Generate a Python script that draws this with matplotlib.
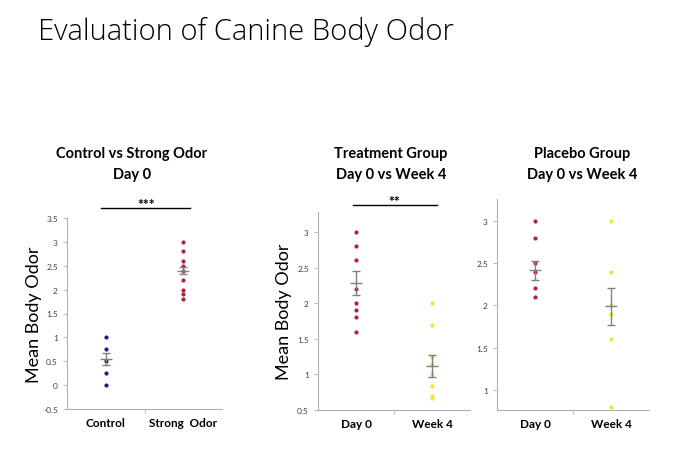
import numpy as np
import matplotlib.pyplot as plt
from matplotlib.ticker import FixedLocator

plt.rcParams['font.family'] = ['Lato', 'DejaVu Sans']

# panel 1: control vs strong odor, day 0
control = [1.0, 0.75, 0.5, 0.25, 0.0]
strong = [3.0, 2.8, 2.6, 2.5, 2.4, 2.2, 2.0, 1.9, 1.8]
p1_mean = [0.55, 2.40]
p1_sem = [0.12, 0.07]

# panel 2: treatment group
treat_d0 = [3.0, 2.8, 2.6, 2.2, 2.0, 1.9, 1.8, 1.6]
treat_w4 = [2.0, 1.7, 1.25, 1.15, 1.0, 0.83, 0.7, 0.67]
p2_mean = [2.28, 1.12]
p2_sem = [0.17, 0.15]

# panel 3: placebo group
plac_d0 = [3.0, 2.8, 2.5, 2.4, 2.2, 2.1]
plac_w4 = [3.0, 2.4, 2.0, 1.9, 1.6, 0.8]
p3_mean = [2.415, 1.99]
p3_sem = [0.11, 0.22]

navy = '#1c1c70'
red = '#b3203c'
yellow = '#ece63a'

fig = plt.figure(figsize=(6.89, 4.64), dpi=100)
W, H = 689, 464


def axes_px(x0, x1, y0, y1):
    return fig.add_axes([x0 / W, 1 - y1 / H, (x1 - x0) / W, (y1 - y0) / H])


def style(ax, ylim, yticks, labels):
    ax.set_xlim(-0.5, 1.5)
    ax.set_ylim(*ylim)
    for s in ['top', 'right']:
        ax.spines[s].set_visible(False)
    for s in ['left', 'bottom']:
        ax.spines[s].set_color('#b0b0b0')
        ax.spines[s].set_linewidth(0.8)
    ax.set_yticks(yticks)
    ax.set_yticklabels([('%g' % t) for t in yticks])
    ax.tick_params(axis='y', labelsize=6, colors='#b0b0b0', labelcolor='#404040', length=3, width=0.6)
    ax.set_xticks([0, 1])
    ax.set_xticklabels(labels, fontsize=8.5, fontweight='bold')
    ax.tick_params(axis='x', length=0, pad=6)
    ax.xaxis.set_minor_locator(FixedLocator([0.5]))
    ax.tick_params(axis='x', which='minor', length=3, color='#b0b0b0', width=0.6)


def groups(ax, vals, colors, means, sems, ecolor='#808080'):
    for i, (v, c) in enumerate(zip(vals, colors)):
        ax.scatter([i] * len(v), v, s=9, color=c, zorder=3, linewidths=0)
    ax.errorbar([0, 1], means, yerr=sems, fmt='_', color=ecolor, ms=9, mew=1,
                elinewidth=1, capsize=3, capthick=1, zorder=4)


def sig(ax, x0, x1, y, txt, ty):
    tr = ax.get_xaxis_transform()
    ax.plot([x0, x1], [y, y], color='black', lw=1, transform=tr, clip_on=False)
    ax.text((x0 + x1) / 2, ty, txt, transform=tr, ha='center', va='center',
            fontsize=10, fontweight='bold')


ax1 = axes_px(67, 222, 219, 410)
style(ax1, (-0.5, 3.5), np.arange(-0.5, 3.51, 0.5), ['Control', 'Strong  Odor'])
groups(ax1, [control, strong], [navy, red], p1_mean, p1_sem)
ax1.set_ylabel('Mean Body Odor', fontsize=13, labelpad=1)
sig(ax1, -0.06, 1.09, 1.052, '***', 1.075)

ax2 = axes_px(318, 470, 213, 411)
style(ax2, (0.5, 3.28), np.arange(0.5, 3.01, 0.5), ['Day 0', 'Week 4'])
groups(ax2, [treat_d0, treat_w4], [red, yellow], p2_mean, p2_sem)
ax2.set_ylabel('Mean Body Odor', fontsize=13, labelpad=4)
sig(ax2, -0.045, 1.06, 1.035, '**', 1.055)

ax3 = axes_px(497, 649, 200, 411)
style(ax3, (0.76, 3.26), np.arange(1.0, 3.01, 0.5), ['Day 0', 'Week 4'])
groups(ax3, [plac_d0, plac_w4], [red, yellow], p3_mean, p3_sem)

fig.text(38 / W, 1 - 17 / H, 'Evaluation of Canine Body Odor', fontsize=21,
         family=['Open Sans', 'DejaVu Sans'], fontweight='light', ha='left', va='top')

titles = ['Control vs Strong Odor\nDay 0', 'Treatment Group\nDay 0 vs Week 4',
          'Placebo Group\nDay 0 vs Week 4']
for cx, t in zip([132, 391, 582], titles):
    fig.text(cx / W, 1 - 147 / H, t, fontsize=10.5, fontweight='bold',
             ha='center', va='top', linespacing=1.6)

fig.savefig('out.png', dpi=100)
